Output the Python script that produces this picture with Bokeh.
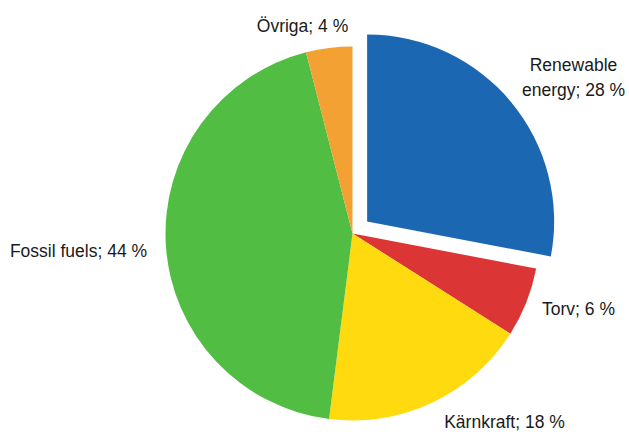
import math
from bokeh.plotting import figure
from bokeh.models import Range1d, ColumnDataSource
from bokeh.core.properties import value
from bokeh.embed import file_html
from bokeh.resources import INLINE

# ---- data ----
categories = ["Renewable energy", "Torv", "Kärnkraft", "Fossil fuels", "Övriga"]
shares = [28, 6, 18, 44, 4]
labels = ["Renewable\nenergy; 28 %", "Torv; 6 %", "Kärnkraft; 18 %", "Fossil fuels; 44 %", "Övriga; 4 %"]
colors = ["#1B67B1", "#DC3535", "#FFDA0E", "#52BD43", "#F4A134"]
explode = [19, 0, 0, 0, 0]

# ---- layout (page pixel coordinates, y measured from bottom of window) ----
W, H = 629, 432
cx, cy, r = 352, H - 233, 187
label_pos = [(573, H - 77), (578, H - 308), (504, H - 421), (78, H - 250), (302, H - 25)]

p = figure(width=W, height=H, output_backend="svg", toolbar_location=None,
           x_range=Range1d(0, W), y_range=Range1d(0, H),
           min_border=0)
p.axis.visible = False
p.grid.visible = False
p.outline_line_color = None

total = sum(shares)
start = math.pi / 2
xs, ys, sa, ea = [], [], [], []
for s, ex in zip(shares, explode):
    sweep = 2 * math.pi * s / total
    end = start - sweep
    mid = (start + end) / 2
    xs.append(cx + ex * math.cos(mid))
    ys.append(cy + ex * math.sin(mid))
    sa.append(start)
    ea.append(end)
    start = end

src = ColumnDataSource(dict(x=xs, y=ys, start=sa, end=ea, color=colors, cat=categories))
p.wedge(x="x", y="y", radius=r, radius_units="data", start_angle="start", end_angle="end",
        direction="clock", fill_color="color", line_color=None, source=src)

lsrc = ColumnDataSource(dict(x=[q[0] for q in label_pos], y=[q[1] for q in label_pos], t=labels))
p.text(x="x", y="y", text="t", source=lsrc, text_align="center", text_baseline="middle",
       text_font=value("Liberation Sans"), text_font_size="17.5px", text_color="#1a1a1a",
       text_line_height=1.25)

open("out.html", "w").write(file_html(p, INLINE))
